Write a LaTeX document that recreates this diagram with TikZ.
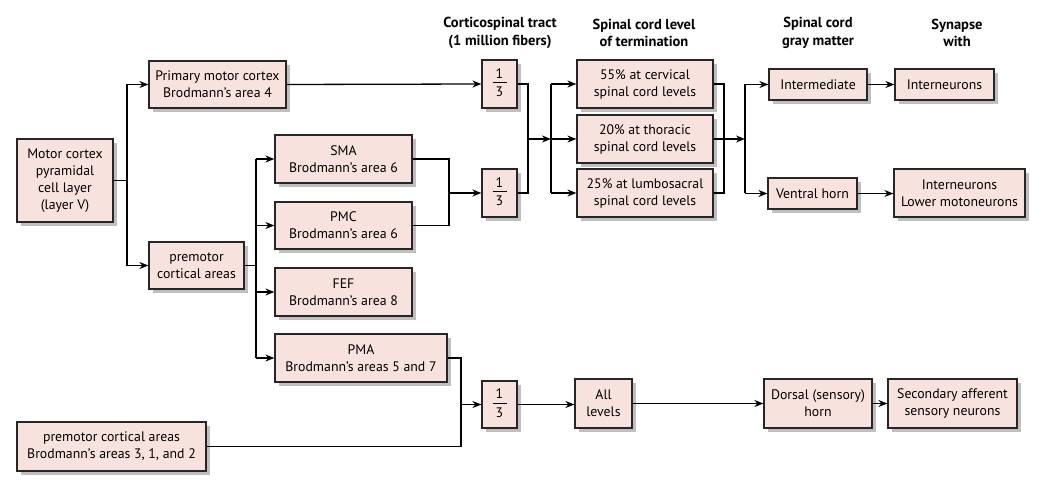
\documentclass[tikz,border=0pt]{standalone}
\usepackage{fontspec}
\setmainfont{PT Sans}
\usetikzlibrary{arrows.meta,shadows}
\definecolor{pinkfill}{HTML}{F8E2DD}
\definecolor{edgecol}{HTML}{262626}
\newcommand{\onethird}{\begin{tabular}{@{}c@{}}\makebox[14pt]{1}\\[-1pt]\hline\rule{0pt}{14pt}3\end{tabular}}
\tikzset{
  bx/.style={draw=edgecol, fill=pinkfill, line width=1.2pt, align=center, inner sep=0pt,
    font=\fontsize{13.8}{17}\selectfont,
    drop shadow={shadow xshift=4pt, shadow yshift=-4pt, fill=black!25, opacity=1}},
  hd/.style={align=center, font=\bfseries\fontsize{14.5}{17.5}\selectfont},
  ln/.style={draw=black, line width=1.3pt},
  arr/.style={ln, -{Stealth[length=9pt,width=7pt]}}
}
\begin{document}
\begin{tikzpicture}[x=1pt,y=-1pt]
\useasboundingbox (0,0) rectangle (1050,486);
% headings
\node[hd] (h1) at (500,33) {Corticospinal tract\\(1 million fibers)};
\node[hd] (h2) at (644,33) {Spinal cord level\\of termination};
\node[hd] (h3) at (818,33) {Spinal cord\\gray matter};
\node[hd] (h4) at (957,33) {Synapse\\with};
% boxes
\node[bx, minimum width=96pt, minimum height=83pt] (mc) at (65,180.5) {Motor cortex\\pyramidal\\cell layer\\(layer V)};
\node[bx, minimum width=137pt, minimum height=47pt] (pmc4) at (217.5,84.5) {Primary motor cortex\\Brodmann's area 4};
\node[bx, minimum width=95pt, minimum height=47pt] (pre) at (196.5,265.5) {premotor\\cortical areas};
\node[bx, minimum width=137pt, minimum height=48pt] (sma) at (343.5,159) {SMA\\Brodmann's area 6};
\node[bx, minimum width=137pt, minimum height=47pt] (pmcb) at (343.5,225.5) {PMC\\Brodmann's area 6};
\node[bx, minimum width=137pt, minimum height=48pt] (fef) at (343.5,292) {FEF\\Brodmann's area 8};
\node[bx, minimum width=172pt, minimum height=48pt] (pma) at (361,358) {PMA\\Brodmann's areas 5 and 7};
\node[bx, minimum width=189pt, minimum height=49pt] (sens) at (111.5,446.5) {premotor cortical areas\\Brodmann's areas 3, 1, and 2};
\node[bx, minimum width=35pt, minimum height=48pt] (f1) at (499.5,84) {\onethird};
\node[bx, minimum width=35pt, minimum height=48pt] (f2) at (499.5,193) {\onethird};
\node[bx, minimum width=35pt, minimum height=47pt] (f3) at (499.5,404.5) {\onethird};
\node[bx, minimum width=136pt, minimum height=48pt] (l1) at (645,84) {55\% at cervical\\spinal cord levels};
\node[bx, minimum width=136pt, minimum height=48pt] (l2) at (645,139) {20\% at thoracic\\spinal cord levels};
\node[bx, minimum width=136pt, minimum height=48pt] (l3) at (645,193) {25\% at lumbosacral\\spinal cord levels};
\node[bx, minimum width=57pt, minimum height=49pt] (all) at (603.5,403.5) {All\\levels};
\node[bx, minimum width=98pt, minimum height=31pt] (inter) at (818,84.5) {Intermediate};
\node[bx, minimum width=89pt, minimum height=31pt] (ventral) at (812.5,193.5) {Ventral horn};
\node[bx, minimum width=99pt, minimum height=31pt] (syn1) at (944.5,84.5) {Interneurons};
\node[bx, minimum width=131pt, minimum height=48pt] (syn2) at (959.5,193) {Interneurons\\Lower motoneurons};
\node[bx, minimum width=108pt, minimum height=49pt] (dorsal) at (818,403.5) {Dorsal (sensory)\\horn};
\node[bx, minimum width=129pt, minimum height=49pt] (sec) at (952.5,403.5) {Secondary afferent\\sensory neurons};
% junction coordinates
\coordinate (j1) at (127,0);
\coordinate (j2) at (256,0);
\coordinate (j3) at (449,0);
\coordinate (j4) at (528,0);
\coordinate (j5) at (551,0);
\coordinate (j6) at (724,0);
\coordinate (j7) at (745,0);
\coordinate (j8) at (461,0);
% connectors
\draw[ln] (mc.east) -- (j1 |- mc.east);
\draw[arr] (j1 |- mc.east) |- (pmc4.west);
\draw[arr] (j1 |- mc.east) |- (pre.west);
\draw[ln] (pre.east) -- (j2 |- pre.east);
\draw[ln] (j2 |- sma) -- (j2 |- pma);
\draw[arr] (j2 |- sma) -- (sma.west);
\draw[arr] (j2 |- pmcb) -- (pmcb.west);
\draw[arr] (j2 |- fef) -- (fef.west);
\draw[arr] (j2 |- pma) -- (pma.west);
\draw[arr] (pmc4.east) -- (f1.west);
\draw[ln] (sma.east) -| (j3 |- pmcb) -- (pmcb.east);
\draw[arr] (j3 |- f2) -- (f2.west);
\draw[ln] (f1.east) -| (j4 |- f2) -- (f2.east);
\draw[arr] (j4 |- l2) -- (j5 |- l2);
\draw[ln] (j5 |- l1) -- (j5 |- l3);
\draw[arr] (j5 |- l1) -- (l1.west);
\draw[arr] (j5 |- l2) -- (l2.west);
\draw[arr] (j5 |- l3) -- (l3.west);
\draw[ln] (l1.east) -| (j6 |- l3) -- (l3.east);
\draw[ln] (l2.east) -- (j6 |- l2);
\draw[arr] (j6 |- l2) -- (j7 |- l2);
\draw[ln] (j7 |- inter) -- (j7 |- ventral);
\draw[arr] (j7 |- inter) -- (inter.west);
\draw[arr] (j7 |- ventral) -- (ventral.west);
\draw[arr] (inter.east) -- (syn1.west);
\draw[arr] (ventral.east) -- (syn2.west |- ventral.east);
\draw[ln] (pma.east) -| (j8 |- sens.east) -- (sens.east);
\draw[arr] (j8 |- f3) -- (f3.west);
\draw[arr] (f3.east) -- (all.west |- f3.east);
\draw[arr] (all.east) -- (dorsal.west);
\draw[arr] (dorsal.east) -- (sec.west);
\end{tikzpicture}
\end{document}
